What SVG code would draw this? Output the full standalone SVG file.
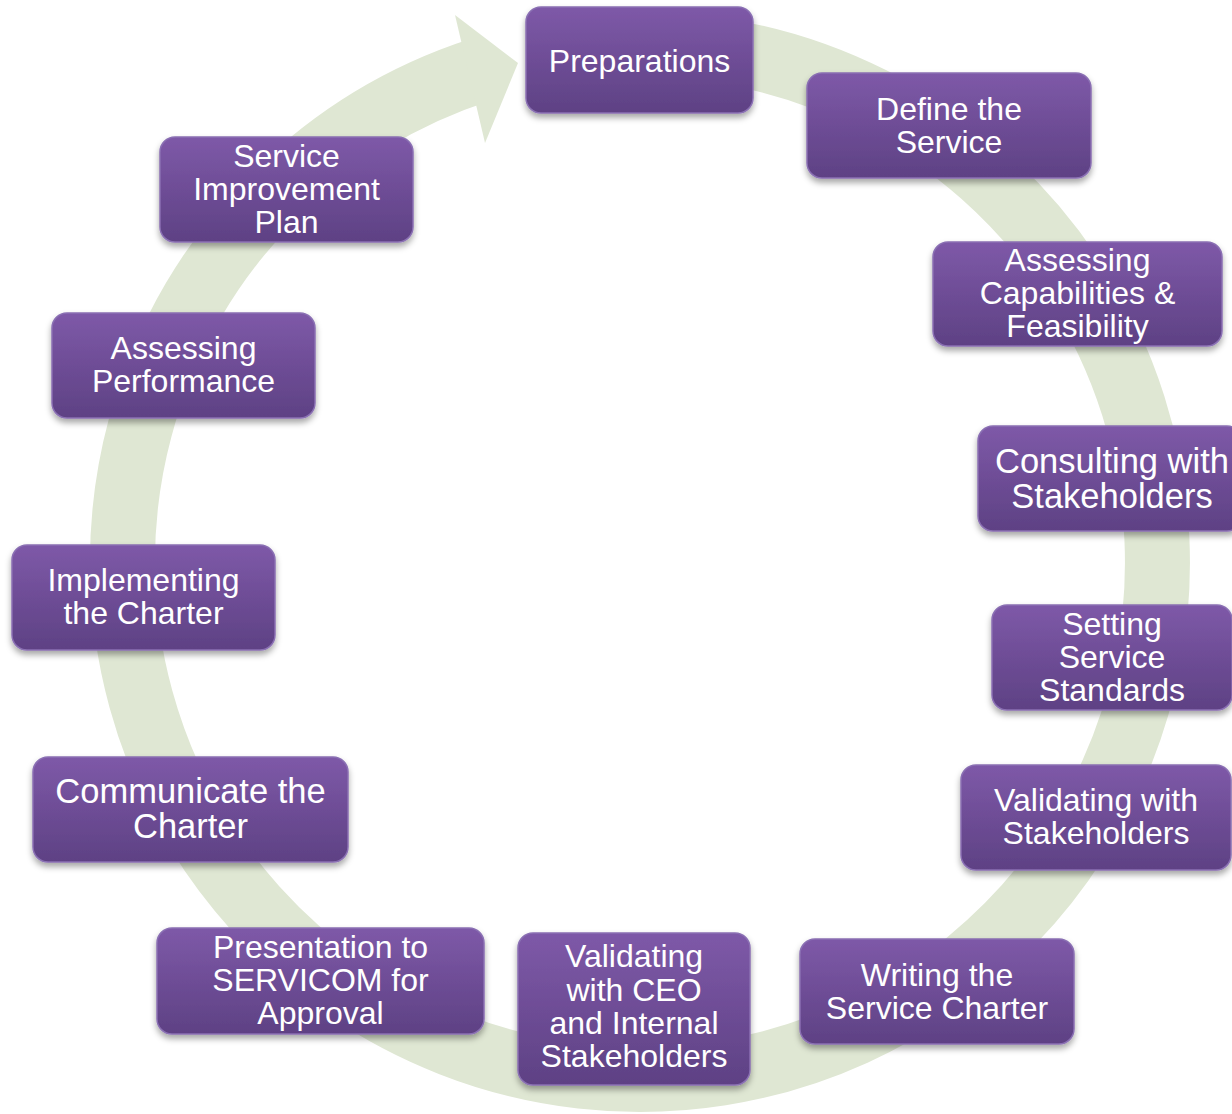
<svg xmlns="http://www.w3.org/2000/svg" width="1232" height="1114" viewBox="0 0 1232 1114">
  <defs>
    <linearGradient id="boxGrad" x1="0" y1="0" x2="0" y2="1">
      <stop offset="0" stop-color="#7e59a8"/>
      <stop offset="1" stop-color="#5e4184"/>
    </linearGradient>
    <filter id="shadow" x="-10%" y="-10%" width="120%" height="130%">
      <feDropShadow dx="0" dy="4" stdDeviation="3" flood-color="#000" flood-opacity="0.35"/>
    </filter>
  </defs>
  <style>
    .box { fill: url(#boxGrad); stroke: #8a6fb3; stroke-width: 1.5; filter: url(#shadow); }
    .lbl { font-family: "Liberation Sans", Arial, sans-serif; font-size: 32px; fill: #ffffff; text-anchor: middle; }
    .big { font-size: 34.5px; }
    .ring { fill: none; stroke: #dfe7d3; stroke-width: 65; }
    .head { fill: #dfe7d3; }
  </style>
  <rect width="1232" height="1114" fill="#ffffff"/>

  <g id="connectors">
    <path class="ring" d="M 640 44.5 A 517.5 517.5 0 1 1 480.1 69.8"/>
    <polygon class="head" points="455,15 518,63 485,143"/>
  </g>

  <g id="n1">
    <rect class="box" x="526" y="7" width="227" height="106" rx="15"/>
    <text class="lbl" x="639.5" y="72">Preparations</text>
  </g>
  <g id="n2">
    <rect class="box" x="807" y="73" width="284" height="105" rx="15"/>
    <text class="lbl" x="949" y="120">Define the</text>
    <text class="lbl" x="949" y="153">Service</text>
  </g>
  <g id="n3">
    <rect class="box" x="933" y="242" width="289" height="104" rx="15"/>
    <text class="lbl" x="1077.5" y="271">Assessing</text>
    <text class="lbl" x="1077.5" y="304">Capabilities &amp;</text>
    <text class="lbl" x="1077.5" y="337">Feasibility</text>
  </g>
  <g id="n4">
    <rect class="box" x="978" y="426" width="264" height="105" rx="15"/>
    <text class="lbl big" x="1112" y="473">Consulting with</text>
    <text class="lbl big" x="1112" y="508">Stakeholders</text>
  </g>
  <g id="n5">
    <rect class="box" x="992" y="605" width="240" height="105" rx="15"/>
    <text class="lbl" x="1112" y="635">Setting</text>
    <text class="lbl" x="1112" y="668">Service</text>
    <text class="lbl" x="1112" y="701">Standards</text>
  </g>
  <g id="n6">
    <rect class="box" x="961" y="765" width="270" height="105" rx="15"/>
    <text class="lbl" x="1096" y="811">Validating with</text>
    <text class="lbl" x="1096" y="844">Stakeholders</text>
  </g>
  <g id="n7">
    <rect class="box" x="800" y="939" width="274" height="105" rx="15"/>
    <text class="lbl" x="937" y="986">Writing the</text>
    <text class="lbl" x="937" y="1019">Service Charter</text>
  </g>
  <g id="n8">
    <rect class="box" x="518" y="933" width="232" height="152" rx="15"/>
    <text class="lbl" x="634" y="967">Validating</text>
    <text class="lbl" x="634" y="1001">with CEO</text>
    <text class="lbl" x="634" y="1034">and Internal</text>
    <text class="lbl" x="634" y="1067">Stakeholders</text>
  </g>
  <g id="n9">
    <rect class="box" x="157" y="928" width="327" height="106" rx="15"/>
    <text class="lbl" x="320.5" y="958">Presentation to</text>
    <text class="lbl" x="320.5" y="991">SERVICOM for</text>
    <text class="lbl" x="320.5" y="1024">Approval</text>
  </g>
  <g id="n10">
    <rect class="box" x="33" y="757" width="315" height="105" rx="15"/>
    <text class="lbl big" x="190.5" y="803">Communicate the</text>
    <text class="lbl big" x="190.5" y="838">Charter</text>
  </g>
  <g id="n11">
    <rect class="box" x="12" y="545" width="263" height="105" rx="15"/>
    <text class="lbl" x="143.5" y="591">Implementing</text>
    <text class="lbl" x="143.5" y="624">the Charter</text>
  </g>
  <g id="n12">
    <rect class="box" x="52" y="313" width="263" height="105" rx="15"/>
    <text class="lbl" x="183.5" y="359">Assessing</text>
    <text class="lbl" x="183.5" y="392">Performance</text>
  </g>
  <g id="n13">
    <rect class="box" x="160" y="137" width="253" height="105" rx="15"/>
    <text class="lbl" x="286.5" y="167">Service</text>
    <text class="lbl" x="286.5" y="200">Improvement</text>
    <text class="lbl" x="286.5" y="233">Plan</text>
  </g>
</svg>
